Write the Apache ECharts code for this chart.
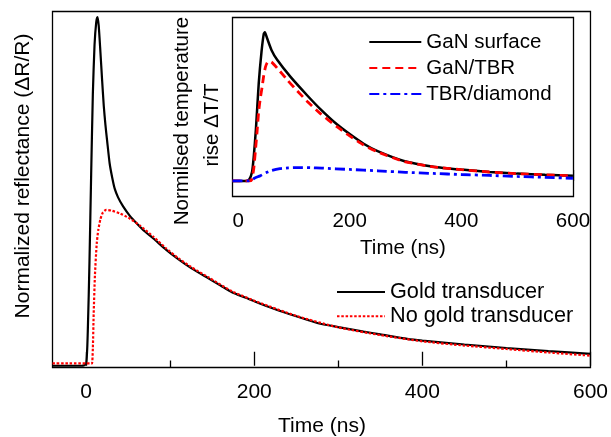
<!DOCTYPE html>
<html><head><meta charset="utf-8">
<script src="https://cdn.jsdelivr.net/npm/echarts@6/dist/echarts.min.js"></script>
<style>html,body{margin:0;padding:0;background:#fff}#c{width:611px;height:437px}</style>
</head><body><div id="c"></div>
<script>
// ---- Main chart data (normalized reflectance) ----
const goldTime   = [-40,-20,-5,0,2,4,6,8,10,12,13.5,15,17,19,21,23,25,28,31,34,38,44,52,60,70,80,95,110,125,146,160,174,190,205,225,250,276,300,330,350,382,400,450,500,550,600];
const goldValues = [0,0,0,0.005,0.1,0.3,0.55,0.78,0.92,0.985,1.0,0.975,0.9,0.82,0.745,0.69,0.645,0.58,0.54,0.508,0.483,0.457,0.43,0.409,0.385,0.365,0.333,0.305,0.28,0.25,0.23,0.21,0.195,0.18,0.162,0.142,0.122,0.111,0.098,0.09,0.077,0.072,0.061,0.051,0.042,0.034];
const noGoldTime   = [-40,-20,0,5,7,8,9,10.5,12.6,14.5,17,20,24,30,40,50,64,80,95,110,125,146,174,205,250,300,350,400,450,500,550,600];
const noGoldValues = [0.0066,0.0066,0.0066,0.0066,0.0066,0.05,0.15,0.26,0.35,0.39,0.42,0.44,0.447,0.445,0.437,0.425,0.402,0.37,0.337,0.308,0.283,0.253,0.213,0.182,0.143,0.11,0.088,0.07,0.058,0.048,0.038,0.029];

// ---- Inset data (normalised temperature rise) ----
const surfTime   = [-10,0,15,20,25,28,32,37,42,46,48,52,60,70,94,124,147,177,200,225,250,297,350,400,450,500,550,600];
const surfValues = [0,0,0,0.01,0.06,0.16,0.35,0.657,0.87,0.99,1.0,0.96,0.88,0.815,0.70,0.575,0.485,0.381,0.315,0.25,0.2,0.134,0.096,0.076,0.06,0.049,0.041,0.034];
const tbrTime   = [-10,0,20,24,28,31,34,37,40,43,46,49,52,55,60,70,88,100,124,147,177,200,225,250,297,350,400,450,500,550,600];
const tbrValues = [0,0,0,0.005,0.08,0.2,0.33,0.47,0.56,0.63,0.71,0.766,0.795,0.807,0.80,0.76,0.68,0.63,0.535,0.455,0.365,0.303,0.242,0.195,0.131,0.095,0.076,0.06,0.049,0.041,0.035];
const diaTime   = [-10,0,18,25,30,40,50,60,75,90,110,130,150,200,250,300,350,400,450,500,550,600];
const diaValues = [0,0,0,0.008,0.02,0.035,0.055,0.07,0.082,0.088,0.09,0.089,0.086,0.077,0.068,0.058,0.05,0.043,0.037,0.03,0.024,0.018];

// ---- Ticks / labels ----
const mainMajorTicks = [0,200,400,600];
const mainMinorTicks = [100,300,500];
const insetMajorTicks = [0,200,400,600];
const insetMinorTicks = [100,300,500];
const seriesNames = ['Gold transducer','No gold transducer','GaN surface','GaN/TBR','TBR/diamond'];

const zip = (a,b) => a.map((x,i)=>[x,b[i]]);
const FF = '"Liberation Sans", Arial, sans-serif';
const fMain = 21, fIn = 20.5, fLeg = 21.7;

const chart = echarts.init(document.getElementById('c'), null, {renderer:'canvas'});
function xAx(grid,min,max,ticks,len,labels,fs,margin){
  return {type:'value',gridIndex:grid,position:'bottom',min:min,max:max,
    axisLine:{show:false},splitLine:{show:false},
    axisTick:{show:true,inside:true,length:len,customValues:ticks,lineStyle:{color:'#000',width:1.3}},
    axisLabel:labels?{show:true,customValues:ticks,margin:margin,fontSize:fs,fontFamily:FF,color:'#000'}:{show:false}};
}
chart.setOption({
  animation:false,
  backgroundColor:'#fff',
  grid:[
    {left:52.5,top:11.5,width:543,height:356,show:true,borderColor:'#000',borderWidth:1.3,backgroundColor:'transparent'},
    {left:232.5,top:17.5,width:341,height:179,show:true,borderColor:'#000',borderWidth:1.3,backgroundColor:'#fff',z:5}
  ],
  xAxis:[
    xAx(0,-40,600,mainMajorTicks,14,true,fMain,14),
    xAx(0,-40,600,mainMinorTicks,7,false),
    xAx(1,-10,601,insetMajorTicks,11,true,fIn,14.5),
    xAx(1,-10,601,insetMinorTicks,7,false)
  ],
  yAxis:[
    {type:'value',gridIndex:0,min:-0.005,max:1.016,show:false},
    {type:'value',gridIndex:1,min:-0.105,max:1.10,show:false}
  ],
  legend:[
    {data:[seriesNames[0],seriesNames[1]],orient:'vertical',left:336,top:281,padding:0,itemWidth:48,itemHeight:12,itemGap:2.3,
     itemStyle:{opacity:0},
     textStyle:{fontSize:fLeg,fontFamily:FF,color:'#000',lineHeight:21}},
    {data:[seriesNames[2],seriesNames[3],seriesNames[4]],orient:'vertical',left:368.3,top:31.5,padding:0,itemWidth:52,itemHeight:12,itemGap:5,z:10,
     itemStyle:{opacity:0},
     textStyle:{fontSize:fIn,fontFamily:FF,color:'#000',lineHeight:20.5}}
  ],
  graphic:[
    {type:'text',x:23,y:176,rotation:Math.PI/2,style:{text:'Normalized reflectance (\u0394R/R)',fontSize:fMain,fontFamily:FF,fill:'#000',align:'center',verticalAlign:'middle'}},
    {type:'text',x:322,y:426,style:{text:'Time (ns)',fontSize:fMain,fontFamily:FF,fill:'#000',align:'center',verticalAlign:'middle'}},
    {type:'text',x:182.5,y:121,rotation:Math.PI/2,z:10,style:{text:'Normilsed temperature',fontSize:fIn,fontFamily:FF,fill:'#000',align:'center',verticalAlign:'middle'}},
    {type:'text',x:212.5,y:125,rotation:Math.PI/2,z:10,style:{text:'rise \u0394T/T',fontSize:fIn,fontFamily:FF,fill:'#000',align:'center',verticalAlign:'middle'}},
    {type:'text',x:403,y:248,z:10,style:{text:'Time (ns)',fontSize:fIn,fontFamily:FF,fill:'#000',align:'center',verticalAlign:'middle'}}
  ],
  series:[
    {name:seriesNames[0],type:'line',xAxisIndex:0,yAxisIndex:0,data:zip(goldTime,goldValues),symbol:'none',smooth:0.2,
     lineStyle:{color:'#000',width:2.2},itemStyle:{color:'#000'},z:2},
    {name:seriesNames[1],type:'line',xAxisIndex:0,yAxisIndex:0,data:zip(noGoldTime,noGoldValues),symbol:'none',smooth:0.2,
     lineStyle:{color:'#ff0000',width:2.2,type:[2.5,1.8]},itemStyle:{color:'#ff0000'},z:3},
    {name:seriesNames[2],type:'line',xAxisIndex:2,yAxisIndex:1,data:zip(surfTime,surfValues),symbol:'none',smooth:0.2,
     lineStyle:{color:'#000',width:2.5},itemStyle:{color:'#000'},z:6},
    {name:seriesNames[3],type:'line',xAxisIndex:2,yAxisIndex:1,data:zip(tbrTime,tbrValues),symbol:'none',smooth:0.2,
     lineStyle:{color:'#ff0000',width:2.8,type:[8,5]},itemStyle:{color:'#ff0000'},z:7},
    {name:seriesNames[4],type:'line',xAxisIndex:2,yAxisIndex:1,data:zip(diaTime,diaValues),symbol:'none',smooth:0.2,
     lineStyle:{color:'#0000ff',width:2.8,type:[10,4,3,4]},itemStyle:{color:'#0000ff'},z:8}
  ]
});
</script></body></html>
